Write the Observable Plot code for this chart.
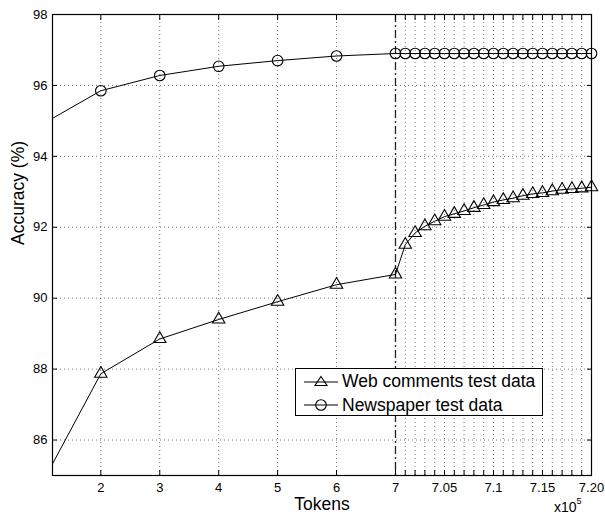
<!DOCTYPE html>
<html><head><meta charset="utf-8">
<script src="https://cdn.jsdelivr.net/npm/d3@7"></script>
<script src="https://cdn.jsdelivr.net/npm/@observablehq/plot@0.6"></script>
<style>
body{margin:0;background:#fff;font-family:"Liberation Sans",Arial,Helvetica,sans-serif}
#wrap{position:relative;width:605px;height:519px}
#legend{position:absolute;left:295px;top:368px;width:248px;height:48px;border:1.2px solid #000;background:#fff;font-size:17.5px;color:#000;box-sizing:border-box}
#legend .row{position:absolute;left:0;height:24px;display:flex;align-items:center}
#legend svg{margin-left:8px;margin-right:4px}
#xexp{position:absolute;left:554px;top:499px;font-size:14px}
#xexp sup{font-size:9px;vertical-align:top;position:relative;top:-3px}
</style>
</head><body>
<div id="wrap"></div>
<script>
// ---- data ----
const tokensCoarse = [1, 2, 3, 4, 5, 6, 7];
const tokensFine = [7.01, 7.02, 7.03, 7.04, 7.05, 7.06, 7.07, 7.08, 7.09, 7.10,
                    7.11, 7.12, 7.13, 7.14, 7.15, 7.16, 7.17, 7.18, 7.19, 7.20];
const webCoarse = [84.77, 87.87, 88.85, 89.40, 89.90, 90.38, 90.67];
const webFine = [91.51, 91.84, 92.03, 92.17, 92.30, 92.38, 92.46, 92.55, 92.63, 92.71,
                 92.77, 92.82, 92.89, 92.94, 92.97, 93.02, 93.06, 93.08, 93.10, 93.13];
const newsCoarse = [94.90, 95.85, 96.28, 96.54, 96.70, 96.83, 96.90];
const newsFine = [96.90, 96.90, 96.90, 96.90, 96.90, 96.90, 96.90, 96.90, 96.90, 96.90,
                  96.90, 96.90, 96.90, 96.90, 96.90, 96.90, 96.90, 96.90, 96.90, 96.90];
const xStart = 1.18, xBreak = 7, xEnd = 7.2;
const xMajorTicks = [2, 3, 4, 5, 6, 7];
const xLabelTicks = [2, 3, 4, 5, 6, 7, 7.05, 7.1, 7.15, 7.2];
const xLabelText = ["2", "3", "4", "5", "6", "7", "7.05", "7.1", "7.15", "7.20"];
const yTicks = [86, 88, 90, 92, 94, 96, 98];
const seriesNames = ["Web comments test data", "Newspaper test data"];

// ---- broken x axis: the segment after the break is stretched ----
const stretch = 16.63;
const brk = x => x <= xBreak ? x : xBreak + (x - xBreak) * stretch;

const tokens = tokensCoarse.concat(tokensFine);
const web = webCoarse.concat(webFine);
const news = newsCoarse.concat(newsFine);
const rows = [];
tokens.forEach((t, i) => {
  rows.push({t: brk(t), v: web[i], s: seriesNames[0]});
  rows.push({t: brk(t), v: news[i], s: seriesNames[1]});
});
const inside = d => d.t >= brk(xStart);
const allXTicks = xMajorTicks.concat(tokensFine).map(brk);
const gridX = xMajorTicks.filter(d => d !== 7).concat(tokensFine.filter(d => d !== 7.2)).map(brk);
const gridY = yTicks.filter(d => d !== 98);
const fmt = u => { const i = xLabelTicks.findIndex(v => Math.abs(brk(v) - u) < 1e-6); return i >= 0 ? xLabelText[i] : ""; };

const chart = Plot.plot({
  width: 605,
  height: 519,
  marginTop: 14,
  marginBottom: 44,
  marginLeft: 52,
  marginRight: 14,
  style: {fontFamily: "'Liberation Sans', Arial, Helvetica, sans-serif", fontSize: "13px", color: "#000", background: "#fff", overflow: "visible"},
  x: {domain: [brk(xStart), brk(xEnd)]},
  y: {domain: [85, 98]},
  marks: [
    Plot.ruleX(gridX, {x: d => d, stroke: "#000", strokeOpacity: 0.6, strokeDasharray: "1,3", strokeWidth: 0.9}),
    Plot.ruleY(gridY, {y: d => d, stroke: "#000", strokeOpacity: 0.6, strokeDasharray: "1,3", strokeWidth: 0.9}),
    Plot.ruleX([brk(xBreak)], {x: d => d, stroke: "#222", strokeWidth: 1.3, strokeDasharray: "8,3,2,3"}),
    Plot.line(rows, {x: "t", y: "v", z: "s", stroke: "#000", strokeWidth: 1, clip: true}),
    Plot.dot(rows.filter(d => d.s === seriesNames[0] && inside(d)), {x: "t", y: "v", symbol: "triangle", r: 4.6, stroke: "#000", strokeWidth: 1.1, fill: "none"}),
    Plot.dot(rows.filter(d => d.s === seriesNames[1] && inside(d)), {x: "t", y: "v", symbol: "circle", r: 5.3, stroke: "#000", strokeWidth: 1.1, fill: "none"}),
    Plot.axisX({anchor: "bottom", ticks: allXTicks, tickSize: -5, tickPadding: 12, tickFormat: fmt, label: null, fontSize: 13}),
    Plot.axisX({anchor: "top", ticks: allXTicks, tickSize: -5, tickFormat: () => "", label: null}),
    Plot.axisY({anchor: "left", ticks: yTicks, tickSize: -5, tickPadding: 10, label: null, fontSize: 13}),
    Plot.axisY({anchor: "right", ticks: yTicks, tickSize: -5, tickFormat: () => "", label: null}),
    Plot.frame({stroke: "#000", strokeWidth: 1.2}),
    Plot.text(["Tokens"], {frameAnchor: "bottom", dy: 34, text: d => d, fontSize: 17.5}),
    Plot.text(["Accuracy (%)"], {frameAnchor: "left", dx: -34, rotate: -90, text: d => d, fontSize: 17.5})
  ]
});
const wrap = document.getElementById("wrap");
wrap.appendChild(chart);

// legend (HTML overlay)
const leg = document.createElement("div");
leg.id = "legend";
const syms = [
  '<svg width="34" height="14"><line x1="0" y1="8" x2="34" y2="8" stroke="#000"/><path d="M17,2.5 L23,11.5 L11,11.5 Z" fill="none" stroke="#000" stroke-width="1.1"/></svg>',
  '<svg width="34" height="14"><line x1="0" y1="7" x2="34" y2="7" stroke="#000"/><circle cx="17" cy="7" r="5.3" fill="none" stroke="#000" stroke-width="1.1"/></svg>'
];
seriesNames.forEach((n, i) => {
  const r = document.createElement("div");
  r.className = "row";
  r.style.top = (i * 24) + "px";
  r.innerHTML = syms[i] + "<span>" + n + "</span>";
  leg.appendChild(r);
});
wrap.appendChild(leg);
const ex = document.createElement("div");
ex.id = "xexp";
ex.innerHTML = "x10<sup>5</sup>";
wrap.appendChild(ex);
</script>
</body></html>
